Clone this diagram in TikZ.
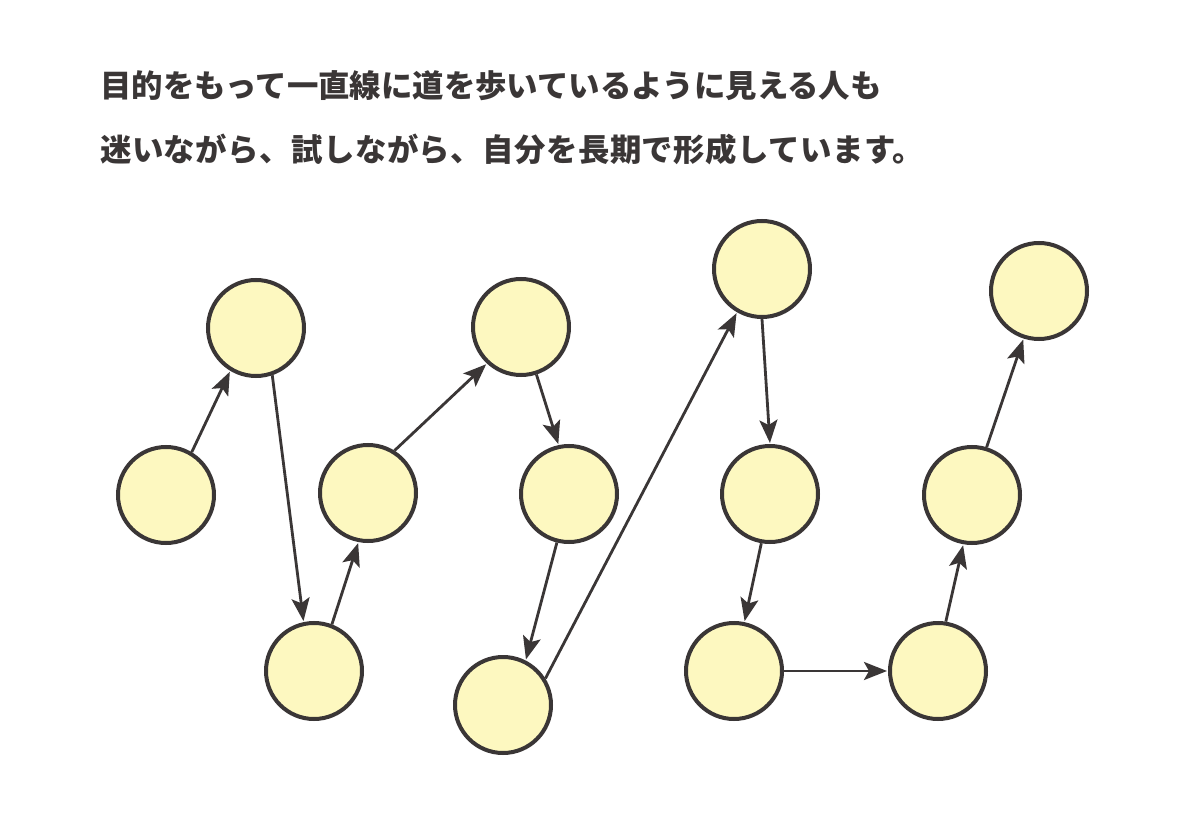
\documentclass[tikz,border=0pt]{standalone}
\usepackage{fontspec}
\newfontfamily\cjk{Noto Sans CJK JP}
\usetikzlibrary{arrows.meta}
\definecolor{ink}{HTML}{3A3636}
\definecolor{cfill}{HTML}{FDF8C0}
\tikzset{
  dot/.style={circle, draw=ink, line width=4pt, fill=cfill, minimum size=96pt, inner sep=0pt},
  link/.style={draw=ink, line width=2.8pt, -{Stealth[length=23pt,width=18pt,inset=5pt]}, shorten >=1pt},
  txt/.style={text=ink, anchor=west, inner sep=0pt, font=\cjk\bfseries\fontsize{31.4pt}{34pt}\selectfont}
}
\begin{document}
\begin{tikzpicture}[x=1pt,y=-1pt]
\useasboundingbox[fill=white] (0,0) rectangle (1200,834);
\node[txt] (t1) at (100,86) {目的をもって一直線に道を歩いているように見える人も};
\node[txt] (t2) at (100,149) {\addfontfeature{LetterSpace=1.5}迷いながら、試しながら、自分を長期で形成しています。};
\node[dot] (n1) at (166,495) {};
\node[dot] (n2) at (256,328) {};
\node[dot] (n3) at (314,671) {};
\node[dot] (n4) at (368,493) {};
\node[dot] (n5) at (521,327) {};
\node[dot] (n6) at (569,494) {};
\node[dot] (n7) at (503,705) {};
\node[dot] (n8) at (762,269) {};
\node[dot] (n9) at (770,494) {};
\node[dot] (n10) at (734,671) {};
\node[dot] (n11) at (938,671) {};
\node[dot] (n12) at (972,495) {};
\node[dot] (n13) at (1039,291) {};
\draw[link] (n1.59) -- (n2.-121.5);
\draw[link] (n2.-71) -- (n3.102);
\draw[link] (n3.69) -- (n4.-101);
\draw[link] (n4.58) -- (n5.-133.5);
\draw[link] (n5.-72) -- (n6.102.6);
\draw[link] (n6.-104) -- (n7.63);
\draw[link] (n7.32) -- (n8.-120);
\draw[link] (n8.-90) -- (n9.90);
\draw[link] (n9.-100) -- (n10.78);
\draw[link] (n10.0) -- (n11.180);
\draw[link] (n11.81) -- (n12.-100);
\draw[link] (n12.73) -- (n13.-108);
\end{tikzpicture}
\end{document}
